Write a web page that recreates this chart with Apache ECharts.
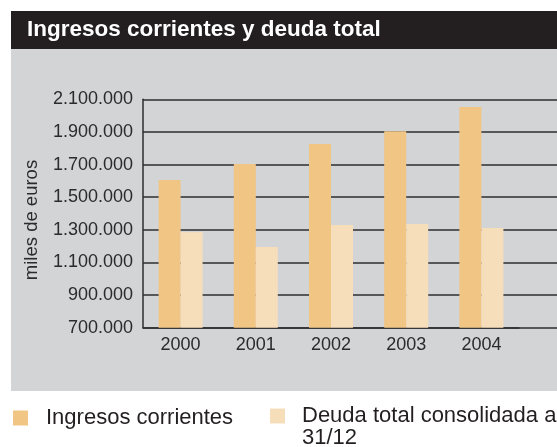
<!DOCTYPE html>
<html>
<head>
<meta charset="utf-8">
<script src="https://cdn.jsdelivr.net/npm/echarts@6/dist/echarts.min.js"></script>
<style>
  html, body { margin: 0; padding: 0; background: #ffffff; }
  #chart { width: 557px; height: 447px; }
</style>
</head>
<body>
<div id="chart"></div>
<script>
// Ingresos corrientes y deuda total (miles de euros)
const years = ['2000', '2001', '2002', '2003', '2004'];
const ingresos = [1605000, 1704000, 1826000, 1904000, 2053000];
const deuda = [1285000, 1195000, 1330000, 1336000, 1311000];
const yMin = 700000;
const yMax = 2100000;
const yStep = 200000;

const nameIngresos = 'Ingresos corrientes';
const nameDeuda = 'Deuda total consolidada a 31/12';

const FONT = '"Liberation Sans", Arial, Helvetica, sans-serif';
const PANEL = '#d3d4d6';
const GRIDLINE = '#2e2e2e';
const INK = '#231f20';

function fmtMiles(v) {
  return String(Math.round(v)).replace(/\B(?=(\d{3})+(?!\d))/g, '.');
}

// long legend entry: last word goes onto a second line
function wrapLast(n) {
  const i = n.lastIndexOf(' ');
  return '{l|' + n.slice(0, i) + '}\n{l|' + n.slice(i + 1) + '}';
}

const chart = echarts.init(document.getElementById('chart'), null, { renderer: 'canvas' });

const option = {
  animation: false,
  backgroundColor: '#ffffff',
  textStyle: { fontFamily: FONT },
  graphic: [
    { type: 'rect', z: -10, shape: { x: 11, y: 11, width: 546, height: 38 }, style: { fill: INK } },
    { type: 'rect', z: -10, shape: { x: 11, y: 49, width: 546, height: 342 }, style: { fill: PANEL } },
    {
      type: 'text', x: 27, y: 30, z: 10,
      style: {
        text: 'Ingresos corrientes y deuda total',
        fill: '#ffffff', font: 'bold 22.5px ' + FONT,
        verticalAlign: 'middle', align: 'left'
      }
    },
    {
      type: 'text', x: 31.5, y: 220, rotation: Math.PI / 2, z: 10,
      style: {
        text: 'miles de euros',
        fill: '#2b2b2b', font: '18.5px ' + FONT,
        align: 'center', verticalAlign: 'middle'
      }
    }
  ],
  grid: [
    // bars and category axis
    { left: 143, right: 38, top: 99.3, bottom: 119.3 },
    // horizontal rules running out to the page edge
    { left: 143, right: 0, top: 99.3, bottom: 119.3 }
  ],
  xAxis: [
    {
      type: 'category', gridIndex: 0, data: years,
      axisLine: { show: true, lineStyle: { color: GRIDLINE, width: 1.5 } },
      axisTick: { show: false },
      axisLabel: { color: '#2b2b2b', fontSize: 18, fontFamily: FONT, margin: 8 },
      splitLine: { show: false }
    },
    {
      type: 'category', gridIndex: 1, data: years, show: false
    }
  ],
  yAxis: [
    {
      type: 'value', gridIndex: 0, min: yMin, max: yMax, interval: yStep,
      axisLine: { show: true, lineStyle: { color: GRIDLINE, width: 1.5 } },
      axisTick: { show: false },
      splitLine: { show: false },
      axisLabel: { color: '#2b2b2b', fontSize: 18, fontFamily: FONT, margin: 10, formatter: fmtMiles }
    },
    {
      type: 'value', gridIndex: 1, min: yMin, max: yMax, interval: yStep,
      axisLine: { show: false }, axisTick: { show: false }, axisLabel: { show: false },
      splitLine: { show: true, lineStyle: { color: GRIDLINE, width: 1.5 } }
    }
  ],
  legend: [
    {
      data: [nameIngresos], left: 13, top: 407, padding: 0,
      itemWidth: 15, itemHeight: 15, selectedMode: false,
      icon: 'rect',
      textStyle: { color: INK, fontSize: 22, lineHeight: 15, fontFamily: FONT, padding: [0, 0, 0, 13] }
    },
    {
      data: [nameDeuda], left: 270, top: 405, padding: 0,
      itemWidth: 15, itemHeight: 15, selectedMode: false,
      icon: 'rect',
      formatter: wrapLast,
      textStyle: {
        color: INK, fontFamily: FONT, padding: [22, 0, 0, 12],
        rich: { l: { color: INK, fontSize: 22, lineHeight: 22, fontFamily: FONT } }
      }
    }
  ],
  series: [
    {
      name: nameIngresos, type: 'bar', xAxisIndex: 0, yAxisIndex: 0,
      data: ingresos, barWidth: 22, barGap: '0%',
      itemStyle: { color: '#f1c584' }, z: 5
    },
    {
      name: nameDeuda, type: 'bar', xAxisIndex: 0, yAxisIndex: 0,
      data: deuda, barWidth: 22, barGap: '0%',
      itemStyle: { color: '#f7debb' }, z: 5
    }
  ]
};

chart.setOption(option);
</script>
</body>
</html>
